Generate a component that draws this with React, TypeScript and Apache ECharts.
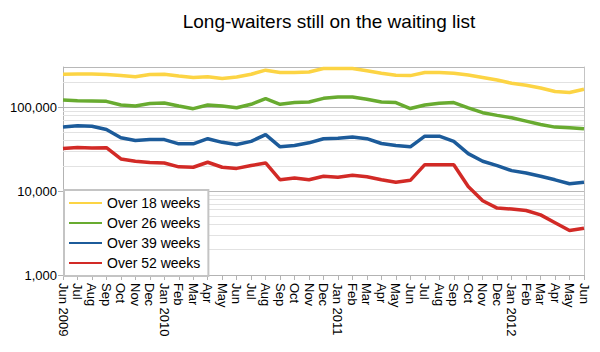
import React, { useEffect, useRef } from "react";
import * as echarts from "echarts";

const months = [
  "Jun 2009", "Jul", "Aug", "Sep", "Oct", "Nov", "Dec",
  "Jan 2010", "Feb", "Mar", "Apr", "May", "Jun", "Jul", "Aug", "Sep", "Oct", "Nov", "Dec",
  "Jan 2011", "Feb", "Mar", "Apr", "May", "Jun", "Jul", "Aug", "Sep", "Oct", "Nov", "Dec",
  "Jan 2012", "Feb", "Mar", "Apr", "May", "Jun",
];

const over18 = [
  246000, 248000, 248000, 244000, 237000, 229000, 244000, 246000, 235000, 225000, 229000, 219000, 228000,
  246000, 275000, 258000, 258000, 262000, 288000, 288000, 288000, 270000, 253000, 239000, 237000,
  258000, 258000, 253000, 241000, 225000, 210000, 192000, 182000, 169000, 153000, 149000, 163000,
];
const over26 = [
  121000, 119000, 118000, 117000, 106000, 103000, 110000, 112000, 103000, 95700, 106000, 103000, 98000,
  108000, 126000, 108000, 113000, 115000, 127000, 132000, 132000, 124000, 115000, 113000, 96000,
  106000, 111000, 113000, 98000, 85700, 79600, 74600, 68000, 62000, 57700, 56700, 55000,
];
const over39 = [
  58000, 60000, 59000, 54000, 43000, 40000, 41000, 41000, 36500, 36500, 42000, 38000, 35800,
  39000, 47000, 33600, 34800, 37500, 42000, 42500, 44000, 42000, 36800, 34800, 33600,
  45000, 45000, 39000, 27900, 22600, 20100, 17500, 16400, 15000, 13600, 12200, 12700,
];
const over52 = [
  32000, 33000, 32500, 32800, 24100, 22600, 21800, 21600, 19400, 19200, 22000, 19200, 18600,
  20100, 21600, 13600, 14300, 13600, 15000, 14600, 15400, 14800, 13600, 12700, 13400,
  20600, 20600, 20600, 11300, 7650, 6260, 6100, 5860, 5200, 4200, 3380, 3600,
];

const seriesNames = ["Over 18 weeks", "Over 26 weeks", "Over 39 weeks", "Over 52 weeks"];
const seriesColors = ["#fcd444", "#68ab30", "#1c5b9a", "#d22a26"];
const minorGridValues = [
  2000, 3000, 4000, 5000, 6000, 7000, 8000, 9000,
  20000, 30000, 40000, 50000, 60000, 70000, 80000, 90000,
  200000,
];
const yMin = 1000;
const yMax = 300000;

export default function App() {
  const ref = useRef<HTMLDivElement>(null);
  useEffect(() => {
    if (!ref.current) return;
    const chart = echarts.init(ref.current, undefined, { renderer: "svg" });
    const font = "Liberation Sans, Arial, sans-serif";
    const data = [over18, over26, over39, over52];
    const series: any[] = seriesNames.map((name, i) => ({
      name,
      type: "line",
      data: data[i],
      showSymbol: false,
      symbol: "none",
      lineStyle: { color: seriesColors[i], width: 3.5 },
      itemStyle: { color: seriesColors[i] },
      z: 3,
    }));
    series.push({
      name: "grid",
      type: "line",
      data: months.map(() => null),
      symbol: "none",
      silent: true,
      z: 1,
      markLine: {
        silent: true,
        z: 1,
        symbol: ["none", "none"],
        label: { show: false },
        lineStyle: { color: "#e2e2e2", type: "solid", width: 1 },
        data: minorGridValues.map((v) => ({ yAxis: v })),
      },
    });
    chart.setOption({
      animation: false,
      backgroundColor: "#ffffff",
      textStyle: { fontFamily: font },
      title: {
        text: "Long-waiters still on the waiting list",
        left: 324,
        textAlign: "center",
        top: 7,
        textStyle: { fontFamily: font, fontSize: 19, fontWeight: "normal", color: "#000" },
      },
      legend: {
        data: seriesNames,
        orient: "vertical",
        left: 64,
        top: 190,
        padding: [6, 8, 6, 5],
        itemWidth: 33,
        itemHeight: 14,
        itemGap: 6,
        icon: "path://M0,6 L33,6 L33,8 L0,8 Z",
        backgroundColor: "#ffffff",
        borderColor: "#c4c4c4",
        borderWidth: 2,
        textStyle: { fontFamily: font, fontSize: 14, color: "#000" },
        z: 10,
      },
      grid: { left: 63, right: 16, top: 67, bottom: 77, containLabel: false },
      xAxis: {
        type: "category",
        data: months,
        boundaryGap: false,
        axisLine: { show: true, lineStyle: { color: "#b3b3b3", width: 1 } },
        axisTick: { show: true, interval: 0, length: 5, lineStyle: { color: "#b3b3b3" } },
        axisLabel: { interval: 0, rotate: -90, margin: 8, fontSize: 13, color: "#000", fontFamily: font },
        splitLine: { show: false },
      },
      yAxis: [
        {
          type: "log",
          logBase: 10,
          min: yMin,
          max: yMax,
          axisLine: { show: true, lineStyle: { color: "#b3b3b3" } },
          axisTick: { show: true, length: 5, lineStyle: { color: "#b3b3b3" } },
          axisLabel: {
            fontSize: 13,
            color: "#000",
            fontFamily: font,
            margin: 6,
            showMaxLabel: false,
            formatter: (v: number) => Math.round(v).toLocaleString("en-US"),
          },
          splitLine: { show: true, lineStyle: { color: "#b8b8b8", width: 1 } },
        },
        {
          type: "log",
          logBase: 10,
          min: yMin,
          max: yMax,
          position: "right",
          axisLine: { show: true, lineStyle: { color: "#c4c4c4" } },
          axisTick: { show: false },
          axisLabel: { show: false },
          splitLine: { show: false },
        },
      ],
      series,
    });
    return () => chart.dispose();
  }, []);
  return (
    <div
      ref={ref}
      style={{ position: "fixed", left: 0, top: 0, width: 600, height: 352 }}
    />
  );
}
